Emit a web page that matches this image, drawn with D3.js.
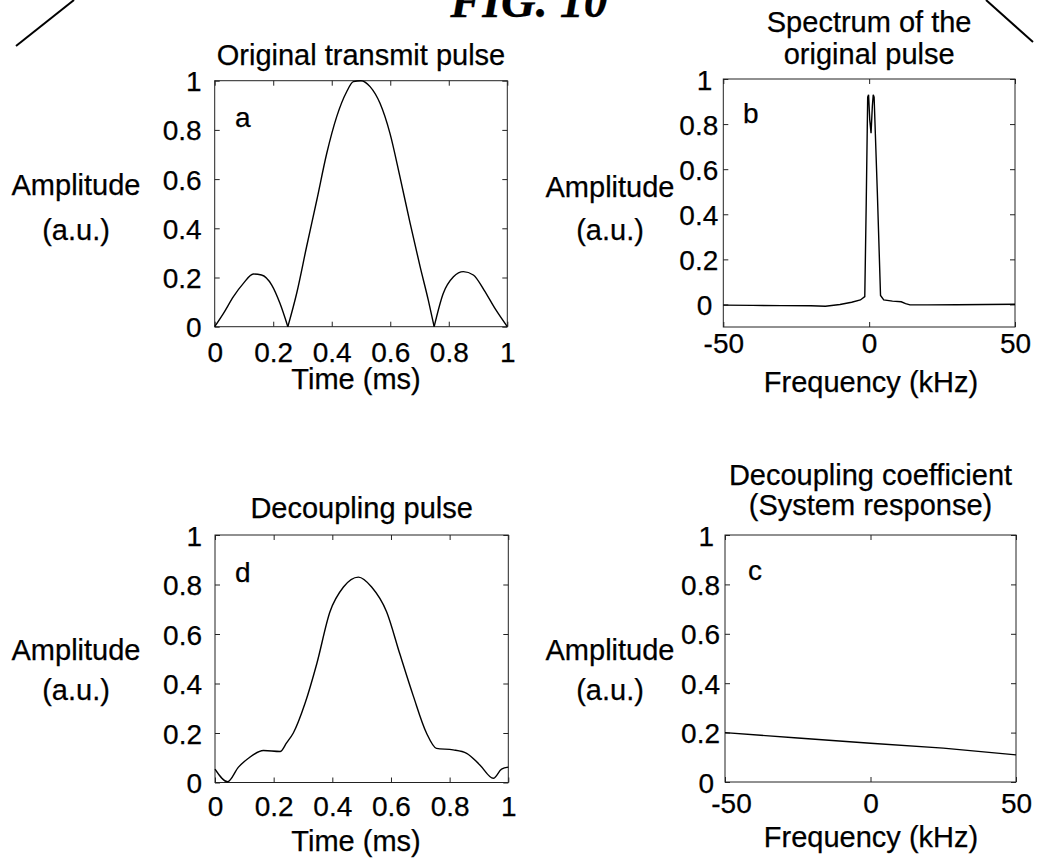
<!DOCTYPE html>
<html>
<head>
<meta charset="utf-8">
<script src="https://cdn.jsdelivr.net/npm/d3@7"></script>
<style>
body { margin: 0; background: #fff; }
svg { display: block; }
text { font-family: "Liberation Sans", Arial, Helvetica, sans-serif; fill: #000; stroke: #000; stroke-width: 0.25; }
</style>
</head>
<body>
<svg id="fig" width="1037" height="862"></svg>
<script>
//Panel a: original transmit pulse
const pulseTime = [0, 0.03, 0.064, 0.098, 0.132, 0.16, 0.195, 0.223, 0.25, 0.28, 0.314, 0.349, 0.383, 0.417, 0.451, 0.474, 0.5, 0.531, 0.565, 0.599, 0.633, 0.668, 0.702, 0.73, 0.75, 0.781, 0.816, 0.85, 0.884, 0.92, 0.96, 1];
const pulseAmp = [0, 0.054, 0.122, 0.176, 0.214, 0.21, 0.169, 0.095, 0, 0.135, 0.325, 0.515, 0.705, 0.854, 0.955, 0.996, 1, 0.976, 0.908, 0.786, 0.61, 0.42, 0.244, 0.108, 0, 0.135, 0.203, 0.224, 0.21, 0.15, 0.07, 0];

//Panel b: spectrum of the original pulse
const spectrumFreq = [-50, -40, -30, -20, -15, -10, -6, -3, -1.5, -1.0, -0.5, -0.2, 0.2, 0.65, 1.1, 1.4, 1.7, 2.8, 3.9, 5, 8, 11, 12.5, 14, 20, 30, 40, 50];
const spectrumAmp = [-0.003, -0.004, -0.005, -0.006, -0.008, 0.0, 0.01, 0.02, 0.035, 0.45, 0.92, 0.93, 0.82, 0.76, 0.88, 0.93, 0.92, 0.5, 0.04, 0.02, 0.015, 0.012, 0.004, -0.002, -0.002, -0.001, 0.0, 0.001];

//Panel c: decoupling coefficient
const coeffFreq = [-50, -25, 0, 25, 50];
const coeffAmp = [0.2, 0.178, 0.157, 0.137, 0.11];

//Panel d: decoupling pulse
const decoupleTime = [0, 0.043, 0.08, 0.114, 0.165, 0.222, 0.244, 0.267, 0.307, 0.347, 0.392, 0.438, 0.489, 0.534, 0.585, 0.63, 0.676, 0.721, 0.755, 0.812, 0.858, 0.903, 0.949, 0.977, 1];
const decoupleAmp = [0.054, 0.003, 0.062, 0.098, 0.129, 0.125, 0.16, 0.2, 0.32, 0.48, 0.69, 0.79, 0.83, 0.79, 0.69, 0.52, 0.35, 0.2, 0.138, 0.132, 0.118, 0.071, 0.017, 0.054, 0.062];

//Tick values
const timeTicks = [0, 0.2, 0.4, 0.6, 0.8, 1];
const freqTicks = [-50, 0, 50];
const ampTicks = [0, 0.2, 0.4, 0.6, 0.8, 1];

const svg = d3.select('#fig');

//Panel layout
const panels = [
    {xs: pulseTime, ys: pulseAmp, xDomain: [0, 1], yDomain: [0, 1], xTicks: timeTicks,
     left: 214.7, right: 507.3, top: 80.7, bottom: 326.7, cusps: true, curve: d3.curveMonotoneX,
     titles: ['Original transmit pulse'], titleY: [65], xLabel: 'Time (ms)', xLabelX: 356,
     tickLabelY: 362, xLabelY: 388.5, pad: 13, padInt: 13, ampX: 76, ampY: [195, 240],
     letter: 'a', letterX: 235, letterY: 126.7, firstShift: 0},
    {xs: spectrumFreq, ys: spectrumAmp, xDomain: [-50, 50], yDomain: [-0.1, 1], xTicks: freqTicks,
     left: 723.3, right: 1015, top: 79, bottom: 327, cusps: false, curve: d3.curveLinear,
     titles: ['Spectrum of the', 'original pulse'], titleY: [32, 64], xLabel: 'Frequency (kHz)', xLabelX: 871,
     tickLabelY: 353, xLabelY: 392, pad: 5, padInt: 11, ampX: 610, ampY: [197, 240],
     letter: 'b', letterX: 743, letterY: 123.3, firstShift: 0},
    {xs: coeffFreq, ys: coeffAmp, xDomain: [-50, 50], yDomain: [0, 1], xTicks: freqTicks,
     left: 725, right: 1016, top: 535, bottom: 782, cusps: false, curve: d3.curveLinear,
     titles: ['Decoupling coefficient', '(System response)'], titleY: [485, 515], xLabel: 'Frequency (kHz)', xLabelX: 871,
     tickLabelY: 813, xLabelY: 847, pad: 5, padInt: 11, ampX: 610, ampY: [660, 700],
     letter: 'c', letterX: 748, letterY: 580, firstShift: 6},
    {xs: decoupleTime, ys: decoupleAmp, xDomain: [0, 1], yDomain: [0, 1], xTicks: timeTicks,
     left: 215, right: 508.3, top: 535, bottom: 782.5, cusps: false, curve: d3.curveMonotoneX,
     titles: ['Decoupling pulse'], titleY: [518], xLabel: 'Time (ms)', xLabelX: 356,
     tickLabelY: 816, xLabelY: 851, pad: 13, padInt: 13, ampX: 76, ampY: [660, 700],
     letter: 'd', letterX: 235, letterY: 581.7, firstShift: 0}
];

//Split a series at its zero points so the |sinc| cusps stay sharp
function splitAtZeros(pts) {
    const segs = [[]];
    pts.forEach((p, i) => {
        segs[segs.length - 1].push(p);
        if (p[1] === 0 && i > 0 && i < pts.length - 1) segs.push([p]);
    });
    return segs;
}

function drawPanel(p) {
    const x = d3.scaleLinear().domain(p.xDomain).range([p.left, p.right]);
    const y = d3.scaleLinear().domain(p.yDomain).range([p.bottom, p.top]);
    const g = svg.append('g');

    //Frame
    g.append('rect')
        .attr('x', p.left).attr('y', p.top)
        .attr('width', p.right - p.left).attr('height', p.bottom - p.top)
        .attr('fill', 'none').attr('stroke', '#222').attr('stroke-width', 1);

    //Axes with inward ticks on every side
    const fmt = d => String(d);
    const bottomAxis = g.append('g')
        .attr('transform', `translate(0,${p.bottom})`)
        .call(d3.axisBottom(x).tickValues(p.xTicks).tickSize(-5).tickFormat(fmt));
    bottomAxis.selectAll('text')
        .attr('y', p.tickLabelY - p.bottom).attr('dy', null)
        .attr('x', (d, i) => i === 0 ? p.firstShift : 0);

    g.append('g').attr('transform', `translate(0,${p.top})`)
        .call(d3.axisTop(x).tickValues(p.xTicks).tickSize(-5).tickFormat(''));

    const leftAxis = g.append('g')
        .attr('transform', `translate(${p.left},0)`)
        .call(d3.axisLeft(y).tickValues(ampTicks).tickSize(-5).tickFormat(fmt));
    leftAxis.selectAll('text')
        .attr('x', d => -(Number.isInteger(d) ? p.padInt : p.pad))
        .attr('dy', '0.36em');

    g.append('g').attr('transform', `translate(${p.right},0)`)
        .call(d3.axisRight(y).tickValues(ampTicks).tickSize(-5).tickFormat(''));

    g.selectAll('.domain').remove();
    g.selectAll('.tick line').attr('stroke', '#222');
    g.selectAll('.tick text').attr('font-size', 28).attr('fill', '#000');
    g.selectAll('g').attr('font-family', null).attr('font-size', null);

    //Data line
    const pts = p.xs.map((v, i) => [v, p.ys[i]]);
    const segs = p.cusps ? splitAtZeros(pts) : [pts];
    const line = d3.line().x(d => x(d[0])).y(d => y(d[1])).curve(p.curve);
    g.selectAll('.trace')
        .data(segs)
        .enter()
        .append('path')
        .attr('class', 'trace')
        .attr('d', line)
        .attr('fill', 'none')
        .attr('stroke', '#000')
        .attr('stroke-width', 1.4);

    //Titles
    p.titles.forEach((t, i) => {
        g.append('text')
            .attr('x', (p.left + p.right) / 2)
            .attr('y', p.titleY[i])
            .attr('text-anchor', 'middle')
            .attr('font-size', 29)
            .text(t);
    });

    //Axis labels
    g.append('text')
        .attr('x', p.xLabelX).attr('y', p.xLabelY)
        .attr('text-anchor', 'middle').attr('font-size', 29)
        .text(p.xLabel);

    ['Amplitude', '(a.u.)'].forEach((t, i) => {
        g.append('text')
            .attr('x', p.ampX).attr('y', p.ampY[i])
            .attr('text-anchor', 'middle').attr('font-size', 29)
            .text(t);
    });

    //Panel letter
    g.append('text')
        .attr('x', p.letterX).attr('y', p.letterY)
        .attr('font-size', 28)
        .text(p.letter);
}

panels.forEach(drawPanel);

//Figure heading, cut off by the top edge as in the scan
svg.append('text')
    .attr('x', 529).attr('y', 17)
    .attr('text-anchor', 'middle')
    .style('font-family', '"Liberation Serif", "Times New Roman", serif')
    .style('font-weight', 'bold')
    .style('font-style', 'italic')
    .attr('font-size', 48)
    .text('FIG. 10');

//Corner strokes of the page frame
svg.append('line').attr('x1', 16).attr('y1', 46).attr('x2', 74).attr('y2', 0)
    .attr('stroke', '#000').attr('stroke-width', 2);
svg.append('line').attr('x1', 986).attr('y1', 0).attr('x2', 1033).attr('y2', 42)
    .attr('stroke', '#000').attr('stroke-width', 2);
</script>
</body>
</html>
